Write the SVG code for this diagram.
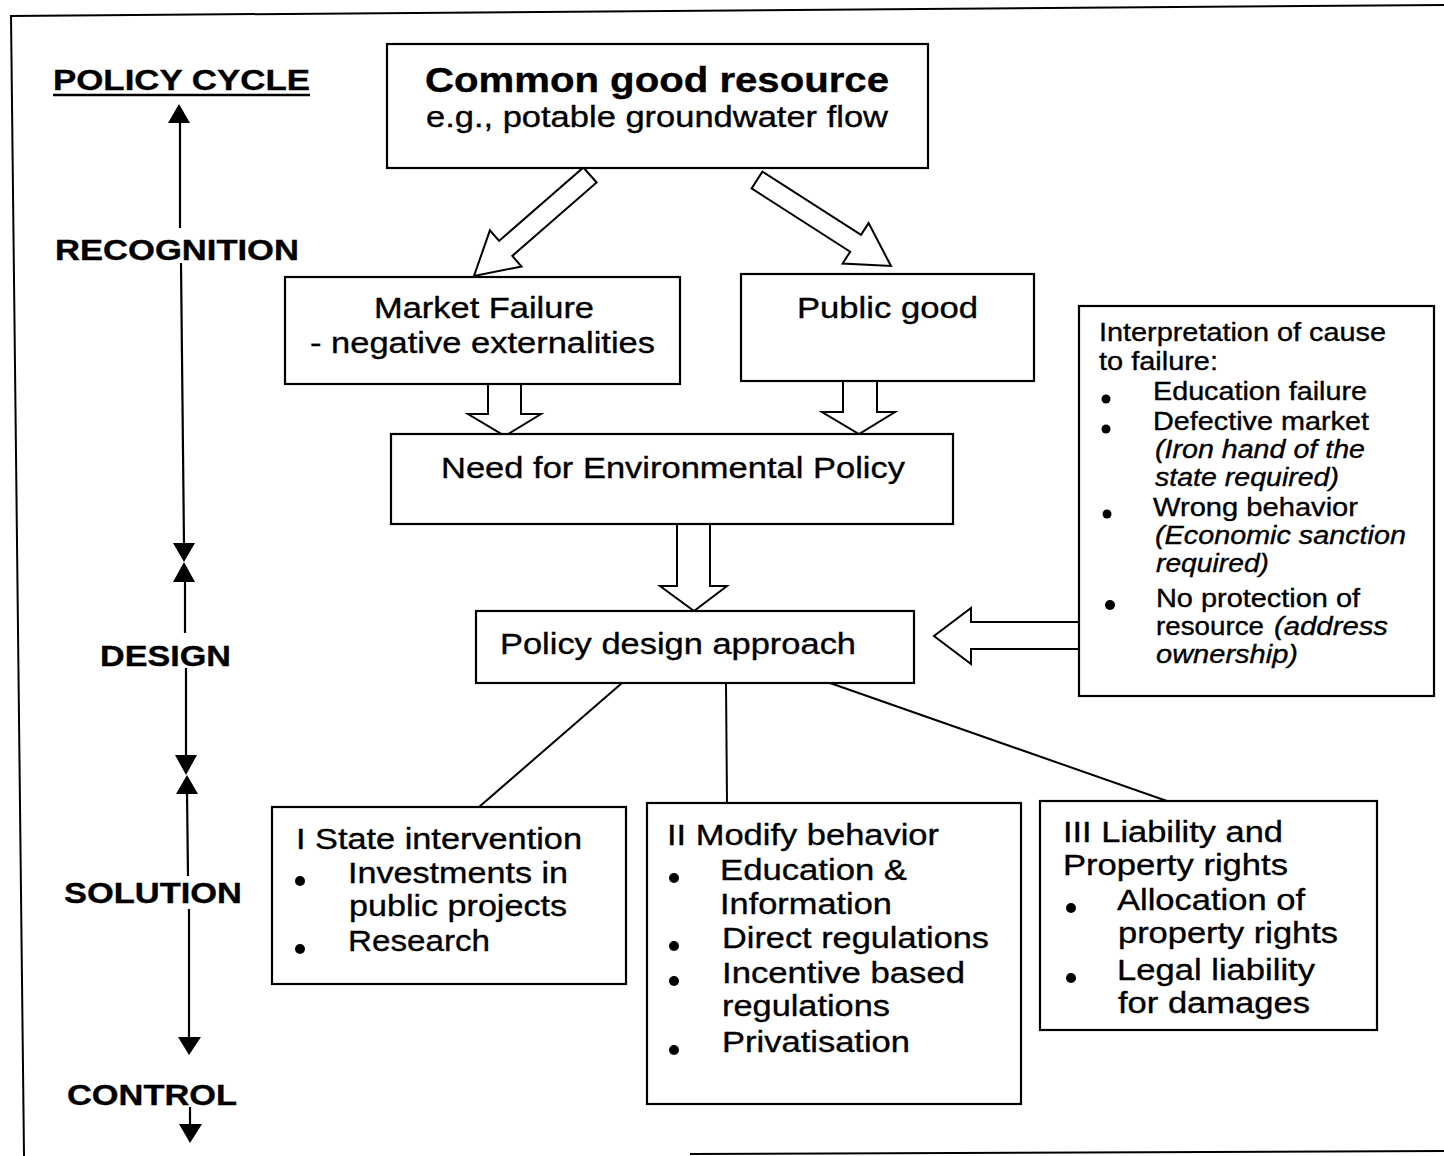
<svg xmlns="http://www.w3.org/2000/svg" width="1444" height="1156" viewBox="0 0 1444 1156">
<style>
text{font-family:"Liberation Sans",Arial,sans-serif;fill:#000;stroke:#000;stroke-width:0.35}
.box{fill:#fff;stroke:#000;stroke-width:2.2}
.lbl{font-size:29px;font-weight:bold}
.t28{font-size:29.5px}
.t24{font-size:25px}
.it{font-style:italic}
.hol{fill:#fff;stroke:#000;stroke-width:2;stroke-linejoin:miter}
.ln{stroke:#000;stroke-width:2;fill:none}
.tl{stroke:#000;stroke-width:2.2;fill:none}
.hd{fill:#000}
</style>
<rect width="1444" height="1156" fill="#fff"/>
<g id="frame">
<line class="ln" x1="10" y1="16" x2="1444" y2="5"/>
<line class="ln" x1="11" y1="16" x2="24" y2="1156"/>
<line class="ln" x1="690" y1="1154" x2="1444" y2="1151"/>
</g>
<g id="timeline">
<text class="lbl" x="53" y="90" textLength="257" lengthAdjust="spacingAndGlyphs">POLICY CYCLE</text>
<line x1="53" y1="95" x2="310" y2="95" stroke="#000" stroke-width="2.5"/>
<polygon class="hd" points="179,104 168,123 190,123"/>
<line class="tl" x1="180" y1="122" x2="180" y2="228"/>
<text class="lbl" x="55" y="260" textLength="244" lengthAdjust="spacingAndGlyphs">RECOGNITION</text>
<line class="tl" x1="181" y1="263" x2="184" y2="545"/>
<polygon class="hd" points="173,543 195,543 184,562"/>
<polygon class="hd" points="173,582 195,582 184,562"/>
<line class="tl" x1="185" y1="580" x2="185" y2="633"/>
<text class="lbl" x="100" y="666" textLength="131" lengthAdjust="spacingAndGlyphs">DESIGN</text>
<line class="tl" x1="186" y1="668" x2="186" y2="757"/>
<polygon class="hd" points="175,755 197,755 186,775"/>
<polygon class="hd" points="176,794 198,794 187,775"/>
<line class="tl" x1="187" y1="792" x2="188" y2="876"/>
<text class="lbl" x="64" y="903" textLength="178" lengthAdjust="spacingAndGlyphs">SOLUTION</text>
<line class="tl" x1="189" y1="909" x2="189" y2="1039"/>
<polygon class="hd" points="178,1037 201,1037 189,1055"/>
<text class="lbl" x="67" y="1105" textLength="170" lengthAdjust="spacingAndGlyphs">CONTROL</text>
<line class="tl" x1="190" y1="1107" x2="190" y2="1126"/>
<polygon class="hd" points="179,1124 202,1124 190,1143"/>
</g>
<g id="connectors">
<polygon class="hol" points="583.4,167.5 596.6,182.5 512.3,255.9 521.5,266.5 474,276 489.9,230.3 499.1,240.9"/>
<polygon class="hol" points="762.4,171.6 861,234.9 868.6,223.1 891,266 842.6,263.5 850.2,251.7 751.6,188.4"/>
<path class="hol" d="M488,384 V414 H468 L505,436 L541,414 H521 V384"/>
<path class="hol" d="M843,381 V412 H822 L859,434 L895,412 H877 V381"/>
<path class="hol" d="M677,524 V586 H660 L694,611 L727,586 H710 V524"/>
<path class="hol" d="M1079,622 H971 V608 L934,636 L971,664 V649 H1079"/>
<line class="ln" x1="622" y1="683" x2="479" y2="807"/>
<line class="ln" x1="726" y1="683" x2="727" y2="803"/>
<line class="ln" x1="830" y1="683" x2="1167" y2="801"/>
</g>
<g id="common">
<rect class="box" x="387" y="44" width="541" height="124"/>
<text x="425" y="92" style="font-size:35px;font-weight:bold" textLength="464" lengthAdjust="spacingAndGlyphs">Common good resource</text>
<text class="t28" x="426" y="127" textLength="462" lengthAdjust="spacingAndGlyphs">e.g., potable groundwater flow</text>
</g>
<g id="market">
<rect class="box" x="285" y="277" width="395" height="107"/>
<text class="t28" x="374" y="318" textLength="220" lengthAdjust="spacingAndGlyphs">Market Failure</text>
<text class="t28" x="310" y="353" textLength="345" lengthAdjust="spacingAndGlyphs">- negative externalities</text>
</g>
<g id="public">
<rect class="box" x="741" y="274" width="293" height="107"/>
<text class="t28" x="797" y="318" textLength="181" lengthAdjust="spacingAndGlyphs">Public good</text>
</g>
<g id="need">
<rect class="box" x="391" y="434" width="562" height="90"/>
<text class="t28" x="441" y="478" textLength="464" lengthAdjust="spacingAndGlyphs">Need for Environmental Policy</text>
</g>
<g id="design">
<rect class="box" x="476" y="611" width="438" height="72"/>
<text class="t28" x="500" y="654" textLength="356" lengthAdjust="spacingAndGlyphs">Policy design approach</text>
</g>
<g id="interpretation">
<rect class="box" x="1079" y="306" width="355" height="390"/>
<text class="t24" x="1099" y="341" textLength="287" lengthAdjust="spacingAndGlyphs">Interpretation of cause</text>
<text class="t24" x="1099" y="370" textLength="119" lengthAdjust="spacingAndGlyphs">to failure:</text>
<circle cx="1106" cy="399" r="4.5"/>
<text class="t24" x="1153" y="400" textLength="214" lengthAdjust="spacingAndGlyphs">Education failure</text>
<circle cx="1106" cy="429" r="4.5"/>
<text class="t24" x="1153" y="430" textLength="216" lengthAdjust="spacingAndGlyphs">Defective market</text>
<text class="t24 it" x="1155" y="458" textLength="210" lengthAdjust="spacingAndGlyphs">(Iron hand of the</text>
<text class="t24 it" x="1155" y="486" textLength="184" lengthAdjust="spacingAndGlyphs">state required)</text>
<circle cx="1107" cy="514" r="4.5"/>
<text class="t24" x="1153" y="516" textLength="205" lengthAdjust="spacingAndGlyphs">Wrong behavior</text>
<text class="t24 it" x="1155" y="544" textLength="251" lengthAdjust="spacingAndGlyphs">(Economic sanction</text>
<text class="t24 it" x="1156" y="572" textLength="113" lengthAdjust="spacingAndGlyphs">required)</text>
<circle cx="1110" cy="605" r="5"/>
<text class="t24" x="1156" y="607" textLength="204" lengthAdjust="spacingAndGlyphs">No protection of</text>
<text class="t24" y="635"><tspan x="1156" textLength="108" lengthAdjust="spacingAndGlyphs">resource</tspan><tspan class="it" x="1274" textLength="114" lengthAdjust="spacingAndGlyphs">(address</tspan></text>
<text class="t24 it" x="1156" y="663" textLength="142" lengthAdjust="spacingAndGlyphs">ownership)</text>
</g>
<g id="state">
<rect class="box" x="272" y="807" width="354" height="177"/>
<text class="t28" x="296" y="849" textLength="286" lengthAdjust="spacingAndGlyphs">I State intervention</text>
<circle cx="300" cy="881" r="5"/>
<text class="t28" x="348" y="883" textLength="220" lengthAdjust="spacingAndGlyphs">Investments in</text>
<text class="t28" x="349" y="916" textLength="218" lengthAdjust="spacingAndGlyphs">public projects</text>
<circle cx="300" cy="949" r="5"/>
<text class="t28" x="348" y="951" textLength="142" lengthAdjust="spacingAndGlyphs">Research</text>
</g>
<g id="modify">
<rect class="box" x="647" y="803" width="374" height="301"/>
<text class="t28" x="667" y="845" textLength="272" lengthAdjust="spacingAndGlyphs">II Modify behavior</text>
<circle cx="674" cy="878" r="5"/>
<text class="t28" x="720" y="880" textLength="187" lengthAdjust="spacingAndGlyphs">Education &amp;</text>
<text class="t28" x="720" y="914" textLength="172" lengthAdjust="spacingAndGlyphs">Information</text>
<circle cx="674" cy="946" r="5"/>
<text class="t28" x="722" y="948" textLength="267" lengthAdjust="spacingAndGlyphs">Direct regulations</text>
<circle cx="674" cy="981" r="5"/>
<text class="t28" x="722" y="983" textLength="243" lengthAdjust="spacingAndGlyphs">Incentive based</text>
<text class="t28" x="722" y="1016" textLength="168" lengthAdjust="spacingAndGlyphs">regulations</text>
<circle cx="674" cy="1050" r="5"/>
<text class="t28" x="722" y="1052" textLength="188" lengthAdjust="spacingAndGlyphs">Privatisation</text>
</g>
<g id="liability">
<rect class="box" x="1040" y="801" width="337" height="229"/>
<text class="t28" x="1063" y="842" textLength="220" lengthAdjust="spacingAndGlyphs">III Liability and</text>
<text class="t28" x="1063" y="875" textLength="225" lengthAdjust="spacingAndGlyphs">Property rights</text>
<circle cx="1071" cy="908" r="5"/>
<text class="t28" x="1117" y="910" textLength="188" lengthAdjust="spacingAndGlyphs">Allocation of</text>
<text class="t28" x="1118" y="943" textLength="220" lengthAdjust="spacingAndGlyphs">property rights</text>
<circle cx="1071" cy="978" r="5"/>
<text class="t28" x="1117" y="980" textLength="198" lengthAdjust="spacingAndGlyphs">Legal liability</text>
<text class="t28" x="1118" y="1013" textLength="192" lengthAdjust="spacingAndGlyphs">for damages</text>
</g>
</svg>
